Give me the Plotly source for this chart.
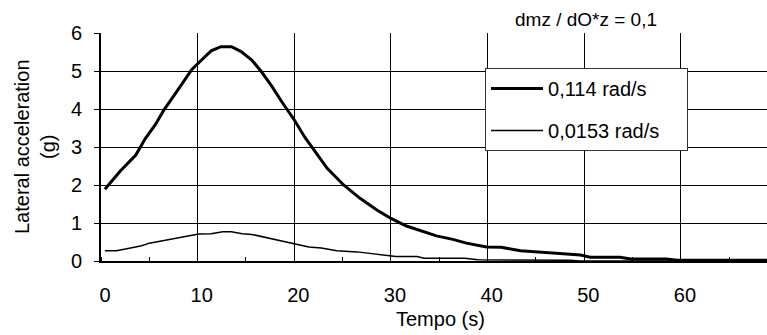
import plotly.graph_objects as go

# Series 1: 0,114 rad/s
t_fast = [0.4, 2.0, 3.6, 4.6, 5.6, 6.5, 7.6, 8.5, 9.4, 10.4, 11.4, 12.4, 13.5, 14.5,
          15.6, 16.6, 17.7, 18.7, 20.0, 21.1, 22.2, 23.4, 25.1, 26.8, 28.5, 30.0,
          31.6, 33.3, 34.7, 36.4, 37.8, 39.9, 41.4, 43.4, 45.4, 47.5, 49.6, 50.6,
          53.7, 54.8, 58.5, 59.6, 69.0]
a_fast = [1.89, 2.37, 2.79, 3.23, 3.58, 3.97, 4.37, 4.72, 5.04, 5.29, 5.53, 5.64, 5.64,
          5.51, 5.29, 4.98, 4.59, 4.19, 3.71, 3.25, 2.85, 2.44, 2.00, 1.65, 1.35, 1.12,
          0.92, 0.77, 0.66, 0.57, 0.47, 0.37, 0.36, 0.27, 0.23, 0.20, 0.16, 0.10,
          0.10, 0.05, 0.05, 0.02, 0.02]

# Series 2: 0,0153 rad/s
t_slow = [0.4, 1.6, 2.8, 4.2, 5.0, 5.8, 7.3, 8.7, 10.1, 11.4, 12.6, 13.5, 14.6, 15.6,
          17.4, 18.7, 20.1, 21.5, 22.8, 24.4, 26.5, 28.2, 29.9, 30.5, 32.7, 33.4,
          37.6, 39.0, 48.5, 49.5, 69.0]
a_slow = [0.27, 0.27, 0.33, 0.40, 0.47, 0.51, 0.57, 0.66, 0.71, 0.72, 0.77, 0.77, 0.72,
          0.70, 0.60, 0.51, 0.43, 0.37, 0.34, 0.27, 0.24, 0.19, 0.15, 0.12, 0.12, 0.07,
          0.07, 0.03, 0.02, 0.0, 0.0]

names = ["0,114 rad/s", "0,0153 rad/s"]
x_ticks = [0, 10, 20, 30, 40, 50, 60]
y_ticks = [0, 1, 2, 3, 4, 5, 6]

FONT = "Liberation Sans, Arial, sans-serif"
fs = 20
PAD = "\u00a0" * 4  # widen the legend box to match the reference

fig = go.Figure()
fig.add_trace(go.Scatter(x=t_fast, y=a_fast, mode="lines", name=names[0],
                         line=dict(color="black", width=3), legendgroup="a"))
fig.add_trace(go.Scatter(x=t_slow, y=a_slow, mode="lines", name=names[1] + PAD,
                         line=dict(color="black", width=1.5), legendgroup="b"))

fig.update_layout(
    width=767, height=335,
    margin=dict(l=101, r=0, t=33, b=74),
    paper_bgcolor="white", plot_bgcolor="white",
    font=dict(family=FONT, size=fs, color="black"),
    showlegend=True,
    legend=dict(x=0.5766, y=0.846, xanchor="left", yanchor="top",
                bgcolor="white", bordercolor="#333", borderwidth=1,
                font=dict(family=FONT, size=fs), tracegroupgap=13,
                itemwidth=52),
    xaxis=dict(range=[0, 68.9], tickvals=x_ticks, ticktext=[str(v) for v in x_ticks],
               showgrid=True, gridcolor="black", gridwidth=1,
               showline=True, linecolor="black", linewidth=2,
               ticks="", zeroline=False, ticklabelshift=4, ticklabelstandoff=15,
               minor=dict(dtick=5, tick0=0, ticks="inside", ticklen=4,
                          tickcolor="black", tickwidth=1, showgrid=False)),
    yaxis=dict(range=[0, 6], tickvals=y_ticks, ticktext=[str(v) for v in y_ticks],
               showgrid=True, gridcolor="black", gridwidth=1,
               showline=True, linecolor="black", linewidth=2,
               ticks="outside", ticklen=5, tickcolor="black", tickwidth=1,
               zeroline=False, ticklabelstandoff=8),
    annotations=[
        dict(text="Lateral acceleration<br>(g)", xref="paper", yref="paper",
             x=(35 - 101) / 666, y=0.5, xanchor="center", yanchor="middle", textangle=-90,
             showarrow=False, font=dict(family=FONT, size=fs)),
        dict(text="Tempo (s)", xref="paper", yref="paper",
             x=(440 - 101) / 666, y=(261 - 319) / 228, xanchor="center", yanchor="middle",
             showarrow=False, font=dict(family=FONT, size=fs)),
        dict(text="dmz / dO*z = 0,1", xref="paper", yref="paper",
             x=(586 - 101) / 666, y=(261 - 20) / 228, xanchor="center", yanchor="middle",
             showarrow=False, font=dict(family=FONT, size=fs - 1)),
    ],
)

fig.write_html("out.html")
